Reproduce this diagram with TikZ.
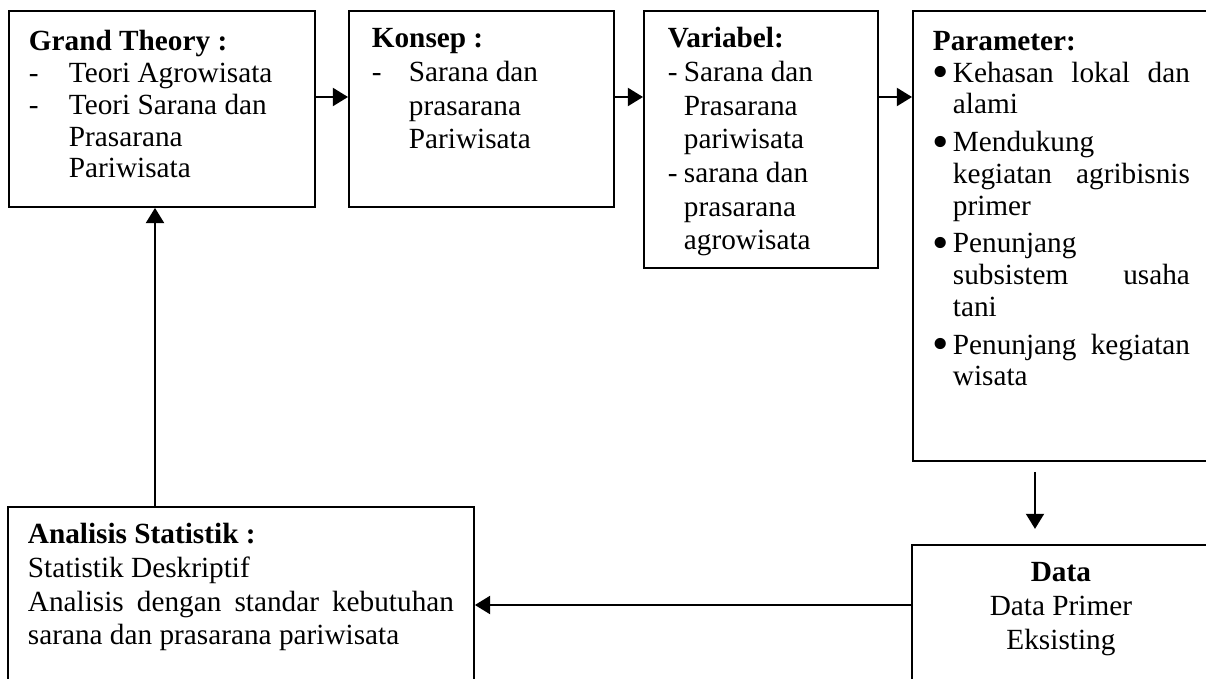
\documentclass[tikz,border=0pt]{standalone}
\usepackage{fontspec}
\setmainfont{Liberation Serif}
\usetikzlibrary{arrows.meta}
\newcommand{\garis}[2]{\par\hangindent=#1\hangafter=1\noindent\makebox[#1][l]{-}#2}
\newcommand{\titik}[1]{\par\hangindent=8.2pt\hangafter=1\noindent\makebox[8.2pt][l]{\raisebox{-2.2pt}{\scalebox{1.6}{\textbullet}}}#1}
\begin{document}
\begin{tikzpicture}[
  x=0.41pt, y=-0.41pt,
  every node/.style={font=\fontsize{12}{13.8}\selectfont}
]
\tikzset{
  kotak/.style={draw, line width=0.75pt, anchor=north west, inner xsep=8.2pt, inner ysep=5.5pt},
  panah/.style={line width=0.75pt, -{Triangle[length=6.2pt,width=7.4pt]}}
}
\useasboundingbox (0,0) rectangle (1206,679);
\node[kotak, inner ysep=7.3pt, font=\fontsize{12}{13}\selectfont] (teori) at (8,10)
  {\parbox[t][65.8pt][t]{109.1pt}{\strut\textbf{Grand Theory :}
   \garis{16.4pt}{Teori Agrowisata}
   \garis{16.4pt}{Teori Sarana dan\\Prasarana\\Pariwisata}}};
\node[kotak, inner xsep=9.4pt] (konsep) at (348,10)
  {\parbox[t][69.4pt][t]{89.9pt}{\strut\textbf{Konsep :}
   \garis{15.2pt}{Sarana dan\\prasarana\\Pariwisata}}};
\node[kotak, inner xsep=9.8pt] (variabel) at (643,10)
  {\parbox[t][94.4pt][t]{76.3pt}{\strut\textbf{Variabel:}
   \garis{6.6pt}{Sarana dan\\Prasarana\\pariwisata}
   \garis{6.6pt}{sarana dan\\prasarana\\agrowisata}}};
\node[kotak, inner ysep=7.1pt, font=\fontsize{12}{13}\selectfont] (parameter) at (912,10)
  {\parbox[t][170.3pt][t]{105.4pt}{\strut\textbf{Parameter:}
   \titik{\makebox[97.2pt][s]{Kehasan lokal dan}\\alami}\vspace{2.5pt}
   \titik{Mendukung\\\makebox[97.2pt][s]{kegiatan agribisnis}\\primer}\vspace{2.5pt}
   \titik{Penunjang\\\makebox[97.2pt][s]{subsistem usaha}\\tani}\vspace{2.5pt}
   \titik{\makebox[97.2pt][s]{Penunjang kegiatan}\\wisata}}};
\node[kotak] (analisis) at (7,506)
  {\parbox[t][76.7pt][t]{174.7pt}{\strut\textbf{Analisis Statistik :}\\Statistik Deskriptif\\
   \makebox[174.7pt][s]{Analisis dengan standar kebutuhan}\\sarana dan prasarana pariwisata}};
\node[kotak] (data) at (911,544)
  {\parbox[t][69.4pt][t]{105.8pt}{\centering\strut\textbf{Data}\\Data Primer\\Eksisting}};
\coordinate (jalur) at (0,97);
\coordinate (turun) at (1035,0);
\coordinate (kembali) at (0,605);
\coordinate (naik) at (155,0);
\draw[panah] (teori.east |- jalur) -- (konsep.west |- jalur);
\draw[panah] (konsep.east |- jalur) -- (variabel.west |- jalur);
\draw[panah] (variabel.east |- jalur) -- (parameter.west |- jalur);
\draw[panah, shorten <=4.1pt, shorten >=6.2pt] (parameter.south -| turun) -- (data.north -| turun);
\draw[panah] (data.west |- kembali) -- (analisis.east |- kembali);
\draw[panah] (analisis.north -| naik) -- (teori.south -| naik);
\end{tikzpicture}
\end{document}
